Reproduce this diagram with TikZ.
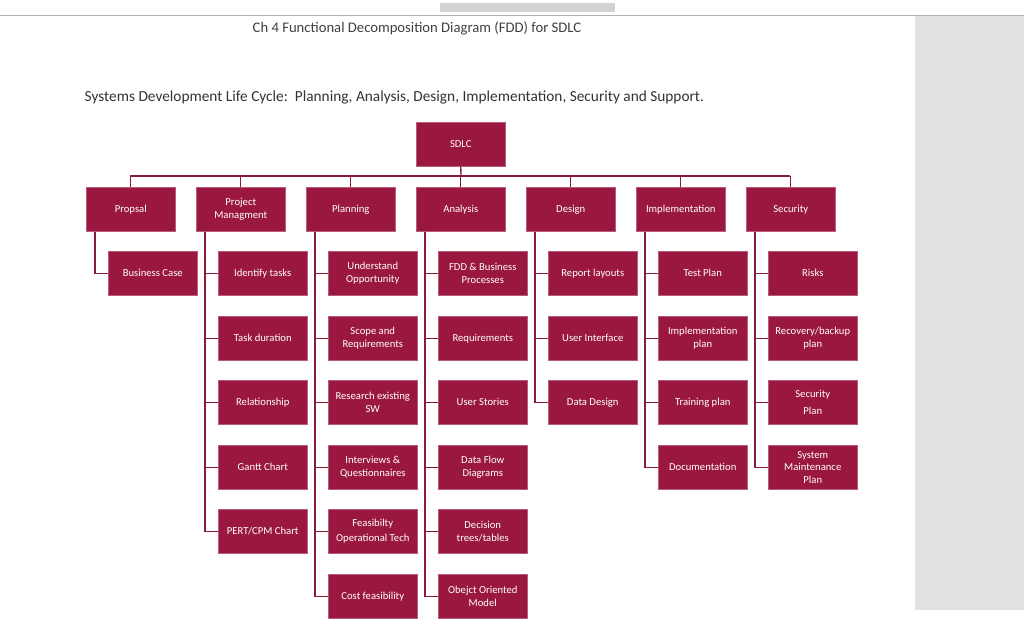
\documentclass[tikz,border=0pt]{standalone}
\usepackage{fontspec}
\setmainfont{Carlito}
\definecolor{boxred}{HTML}{9A1740}
\definecolor{linered}{HTML}{8A1A3A}
\definecolor{panel}{HTML}{E4E1E1}
\begin{document}
\begin{tikzpicture}[x=0.75pt,y=-0.75pt,
  bx/.style={draw=boxred!70!white,fill=boxred,text=white,minimum width=66.75pt,minimum height=33pt,inner sep=1pt,align=center,font=\fontsize{8}{9.5}\selectfont,anchor=north west},
  ln/.style={draw=linered,line width=1pt}]
\useasboundingbox (0,0) rectangle (1024,626);
\fill[white] (0,0) rectangle (1024,626);
\fill[panel] (915,15) rectangle (1024,610);
\draw[gray!60] (0,15) -- (1024,15);
\fill[gray!35] (440,3) rectangle (615,12);
\node[anchor=west,text=black!75,font=\fontsize{11}{13}\selectfont] (title) at (248,28) {Ch 4 Functional Decomposition Diagram (FDD) for SDLC};
\node[anchor=west,text=black!80,font=\fontsize{11.5}{13}\selectfont] (sub) at (80,97) {Systems Development Life Cycle:\ \ Planning, Analysis, Design, Implementation, Security and Support.};
\node[bx] (root) at (416,122) {SDLC};
\coordinate (bus) at (416,176);
\draw[ln] (root.south) -- (461,176);
\draw[ln] (130,176) -- (790,176);
\foreach \name [count=\i] in {Propsal,{Project\\Managment},Planning,Analysis,Design,Implementation,Security}{
  \node[bx] (p\i) at ({86+110*(\i-1)},187) {\name};
  \draw[ln] (p\i.north) -- ++(0,-11);
}
\def\rows{{251,316,380,445,509,574}}
\newcommand\kids[2]{%
  \foreach \t [count=\j] in {#2}{
    \pgfmathsetmacro\yy{\rows[\j-1]}
    \node[bx] (c#1-\j) at ({108+110*(#1-1)},\yy) {\t};
    \draw[ln] ([xshift=9*0.75pt]p#1.south west) |- (c#1-\j.west);
  }}
\kids{1}{Business Case}
\kids{2}{Identify tasks,Task duration,Relationship,Gantt Chart,PERT/CPM Chart}
\kids{3}{{Understand\\Opportunity},{Scope and\\Requirements},{Research existing\\SW},{Interviews \&\\Questionnaires},{Feasibilty\\[2pt]Operational Tech},Cost feasibility}
\kids{4}{{FDD \& Business\\Processes},Requirements,User Stories,{Data Flow\\Diagrams},{Decision\\trees/tables},{Obejct Oriented\\Model}}
\kids{5}{Report layouts,User Interface,Data Design}
\kids{6}{Test Plan,{Implementation\\plan},Training plan,Documentation}
\kids{7}{Risks,{Recovery/backup\\plan},{Security\\[3pt]Plan},{System\\Maintenance\\Plan}}
\end{tikzpicture}
\end{document}
